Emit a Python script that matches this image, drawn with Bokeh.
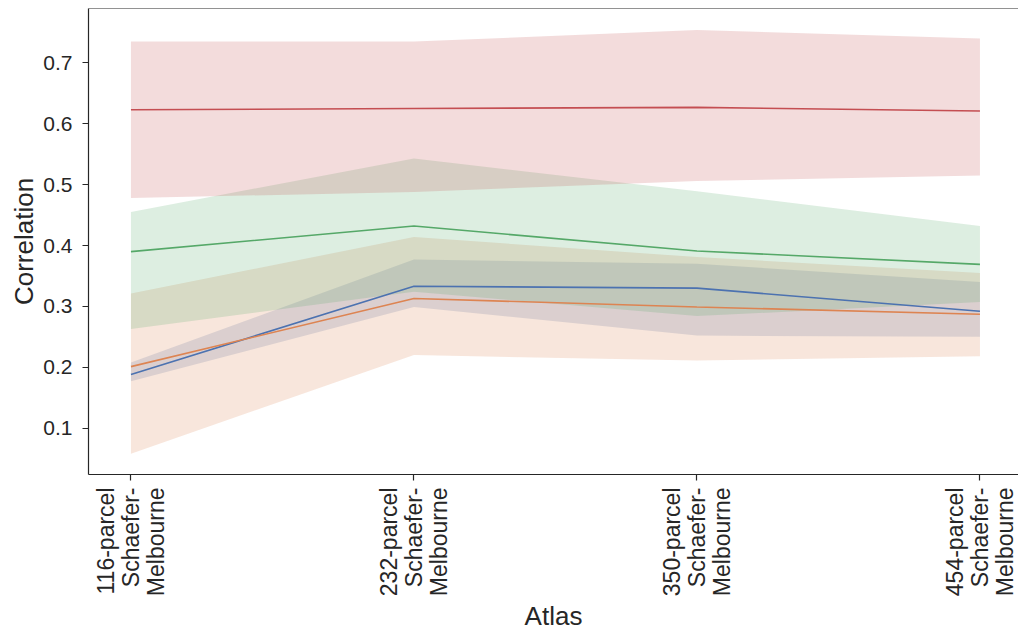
from bokeh.plotting import figure
from bokeh.models import FixedTicker, Span, ColumnDataSource
from bokeh.embed import file_html
from bokeh.resources import INLINE

# ---- data ----
atlases = ["116-parcel\nSchaefer-\nMelbourne", "232-parcel\nSchaefer-\nMelbourne",
           "350-parcel\nSchaefer-\nMelbourne", "454-parcel\nSchaefer-\nMelbourne"]
x_pos = [0, 1, 2, 3]

blue_mean = [0.188, 0.333, 0.330, 0.292]
blue_lo = [0.177, 0.299, 0.252, 0.250]
blue_hi = [0.208, 0.377, 0.370, 0.340]

orange_mean = [0.201, 0.313, 0.299, 0.287]
orange_lo = [0.058, 0.220, 0.211, 0.218]
orange_hi = [0.321, 0.414, 0.381, 0.355]

green_mean = [0.390, 0.432, 0.391, 0.369]
green_lo = [0.263, 0.324, 0.284, 0.307]
green_hi = [0.455, 0.543, 0.489, 0.432]

red_mean = [0.623, 0.625, 0.627, 0.621]
red_lo = [0.478, 0.488, 0.506, 0.515]
red_hi = [0.735, 0.735, 0.754, 0.740]

y_ticks = [0.1, 0.2, 0.3, 0.4, 0.5, 0.6, 0.7]

series = [
    ("#4C72B0", blue_mean, blue_lo, blue_hi),
    ("#DD8452", orange_mean, orange_lo, orange_hi),
    ("#55A868", green_mean, green_lo, green_hi),
    ("#C44E52", red_mean, red_lo, red_hi),
]

TXT = "#262626"
FONT = "Liberation Sans"
Y0, Y1 = 0.0238, 0.7894
FW, FH = 930, 466
X0 = -0.15
X1 = X0 + FW / 283.0

p = figure(frame_width=FW, frame_height=FH, output_backend="svg", toolbar_location=None,
           x_range=(X0, X1), y_range=(Y0, Y1),
           min_border_left=88, min_border_right=0, min_border_top=8, min_border_bottom=155)

p.background_fill_color = "white"
p.border_fill_color = "white"
p.grid.visible = False
p.outline_line_color = None

for col, m, lo, hi in series:
    src = ColumnDataSource(dict(x=x_pos, m=m, lo=lo, hi=hi))
    p.varea(x="x", y1="lo", y2="hi", source=src, fill_color=col, fill_alpha=0.2)
for col, m, lo, hi in series:
    src = ColumnDataSource(dict(x=x_pos, m=m))
    p.line(x="x", y="m", source=src, line_color=col, line_width=1.6)

# top spine
p.add_layout(Span(location=Y1, dimension="width", line_color=TXT, line_width=1.2))

# x axis
p.xaxis.ticker = FixedTicker(ticks=x_pos)
p.xaxis.major_label_overrides = {i: lab for i, lab in zip(x_pos, atlases)}
p.xaxis.major_label_orientation = 1.5707963
p.xaxis.major_label_text_line_height = 0.95
p.xaxis.minor_tick_line_color = None
p.xaxis.axis_label = "Atlas"

# y axis
p.yaxis.ticker = FixedTicker(ticks=y_ticks)
p.yaxis.minor_tick_line_color = None
p.yaxis.axis_label = "Correlation"

for ax in (p.xaxis, p.yaxis):
    ax.axis_line_color = TXT
    ax.axis_line_width = 1.2
    ax.major_tick_line_color = TXT
    ax.major_tick_line_width = 1.2
    ax.major_tick_out = 6
    ax.major_tick_in = 0
    ax.major_label_text_color = TXT
    ax.major_label_text_font = FONT
    ax.axis_label_text_color = TXT
    ax.axis_label_text_font = FONT
    ax.axis_label_text_font_style = "normal"
    ax.axis_label_text_font_size = "26px"

p.yaxis.major_label_text_font_size = "21px"
p.xaxis.major_label_text_font_size = "23px"
p.yaxis.major_label_standoff = 10
p.xaxis.major_label_standoff = 7
p.yaxis.axis_label_standoff = 1
p.xaxis.axis_label_standoff = 2

open("out.html", "w").write(file_html(p, INLINE))
